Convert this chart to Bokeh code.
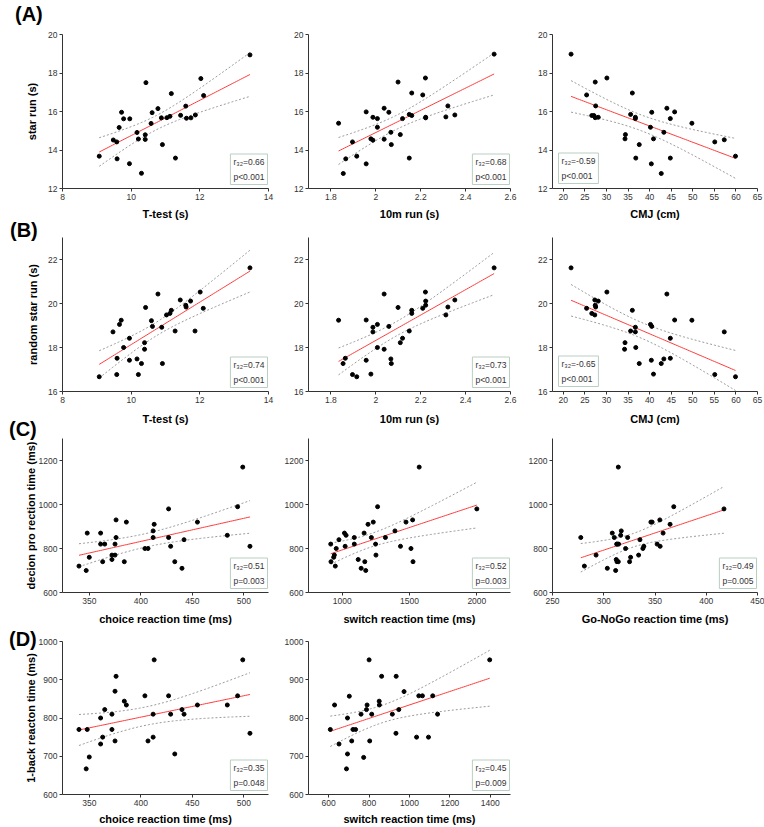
import numpy as np
from bokeh.plotting import figure
from bokeh.models import Label, FixedTicker, Range1d, GridBox, Div
from bokeh.embed import file_html
from bokeh.resources import INLINE

# ---------------- data ----------------
tt_a = [9.07, 9.48, 9.58, 9.59, 9.65, 9.72, 9.78, 9.95, 9.96, 10.17, 10.21, 10.30, 10.41, 10.41, 10.43, 10.58,
        10.61, 10.78, 10.88, 10.91, 11.04, 11.13, 11.17, 11.29, 11.44, 11.59, 11.61, 11.74, 11.87, 12.03, 12.11, 13.46]
star_a1 = [13.68, 14.52, 14.42, 13.54, 15.17, 15.96, 15.62, 13.29, 15.62, 14.91, 14.57, 12.79, 14.79, 14.55, 17.50, 15.38,
           15.94, 16.15, 15.67, 14.28, 15.68, 15.75, 16.93, 13.58, 15.80, 16.28, 15.65, 15.67, 15.82, 17.71, 16.83, 18.94]
run10_a = [1.834, 1.855, 1.866, 1.896, 1.915, 1.957, 1.957, 1.978, 1.987, 1.987, 2.007, 2.007, 2.037, 2.037, 2.058, 2.067,
           2.069, 2.099, 2.109, 2.119, 2.149, 2.149, 2.160, 2.160, 2.209, 2.221, 2.222, 2.222, 2.312, 2.321, 2.352, 2.527]
star_a2 = [15.39, 12.78, 13.54, 14.42, 13.68, 15.98, 13.28, 14.58, 14.51, 15.70, 15.63, 15.18, 14.56, 16.17, 15.96, 14.92,
           14.28, 17.53, 14.80, 15.63, 13.58, 15.85, 15.79, 16.96, 16.86, 17.74, 15.70, 15.67, 15.72, 16.29, 15.82, 18.98]
cmj_a = [21.8, 25.4, 27.4, 27.5, 26.6, 27.1, 27.4, 28.1, 30.1, 34.3, 34.4, 35.6, 36.0, 36.7, 36.7, 36.8,
         37.6, 40.2, 40.4, 40.5, 40.9, 42.7, 43.3, 44.0, 44.8, 44.8, 45.8, 49.8, 55.1, 57.3, 59.9]
star_a3 = [18.98, 16.86, 17.53, 16.29, 15.79, 15.79, 15.68, 15.70, 17.74, 14.58, 14.80, 15.85, 16.96, 15.70, 15.63, 13.58,
           14.28, 15.18, 13.28, 15.96, 14.58, 12.78, 14.92, 16.17, 15.63, 13.58, 15.98, 15.39, 14.42, 14.53, 13.68]

tt_b = [9.07, 9.47, 9.59, 9.58, 9.66, 9.71, 9.78, 9.95, 9.95, 10.17, 10.21, 10.30, 10.39, 10.39, 10.42, 10.59,
        10.62, 10.78, 10.89, 10.91, 11.03, 11.13, 11.17, 11.28, 11.43, 11.59, 11.60, 11.73, 11.86, 12.01, 12.10, 13.46]
rstar_b1 = [16.67, 18.71, 17.51, 16.77, 19.05, 19.24, 18.00, 18.42, 17.42, 17.48, 16.77, 17.27, 18.22, 17.92, 19.82, 19.22,
            18.96, 20.43, 18.92, 17.27, 19.48, 19.55, 19.69, 18.75, 20.16, 19.92, 19.84, 20.11, 18.75, 20.52, 19.78, 21.62]
run10_b = [1.834, 1.854, 1.864, 1.896, 1.915, 1.957, 1.957, 1.978, 1.987, 1.987, 2.007, 2.007, 2.037, 2.037, 2.058, 2.067,
           2.069, 2.099, 2.109, 2.119, 2.149, 2.160, 2.160, 2.209, 2.221, 2.222, 2.222, 2.312, 2.321, 2.352, 2.527]
rstar_b2 = [19.24, 17.27, 17.51, 16.77, 16.67, 19.25, 17.42, 16.79, 18.92, 18.71, 19.05, 18.00, 17.92, 20.43, 18.96, 17.48,
            17.27, 19.82, 18.22, 18.42, 18.75, 19.69, 19.55, 19.78, 20.52, 20.11, 19.92, 19.48, 19.84, 20.16, 21.62]
cmj_b = [21.8, 25.4, 26.6, 27.3, 27.4, 27.5, 27.3, 28.1, 30.1, 34.3, 34.2, 35.6, 36.0, 36.7, 36.7, 36.8,
         37.6, 40.2, 40.4, 40.5, 40.9, 42.7, 43.3, 44.0, 44.8, 44.8, 45.8, 49.8, 55.1, 57.3, 59.9]
rstar_b3 = [21.62, 19.78, 19.55, 20.16, 19.92, 19.84, 19.48, 20.11, 20.52, 18.22, 17.92, 18.75, 19.69, 18.92, 18.71, 18.00,
            17.27, 19.05, 17.42, 18.96, 16.79, 17.27, 17.48, 20.43, 18.42, 17.51, 19.25, 19.24, 16.77, 18.71, 16.67]

choice_c = [340, 347, 348, 350, 361, 361, 363, 365, 372, 372, 375, 375, 376, 376, 384, 386,
            404, 407, 412, 412, 413, 427, 427, 429, 433, 440, 442, 455, 484, 494, 499, 506]
dec_c1 = [720, 700, 870, 760, 870, 820, 740, 820, 750, 770, 820, 770, 850, 930, 740, 920,
          800, 800, 880, 850, 910, 980, 850, 810, 740, 710, 840, 920, 860, 990, 1170, 810]
switch_c = [915, 917, 937, 942, 949, 956, 976, 1017, 1022, 1029, 1090, 1090, 1119, 1141, 1163, 1168,
            1175, 1192, 1217, 1231, 1248, 1251, 1263, 1321, 1392, 1433, 1474, 1511, 1523, 1526, 1572, 2000]
dec_c2 = [820, 740, 760, 770, 720, 800, 840, 870, 810, 860, 850, 820, 750, 710, 870, 740,
          700, 910, 850, 920, 820, 770, 990, 850, 880, 810, 920, 800, 930, 740, 1170, 980]
gonogo_c = [277.6, 281.1, 292.5, 303.5, 308.3, 310.3, 311.6, 312.6, 313.2, 314.5, 312.2, 312.9, 314.2, 316.5, 317.1, 314.2,
            321.3, 323.3, 325.2, 326.2, 334.0, 335.3, 338.2, 339.1, 346.0, 347.2, 352.1, 354.7, 355.0, 357.9, 364.7, 368.3, 417.3]
dec_c3 = [850, 720, 770, 710, 870, 850, 700, 820, 820, 820, 750, 740, 740, 860, 880, 1170,
          800, 850, 740, 760, 770, 840, 800, 810, 920, 920, 820, 930, 810, 870, 910, 990, 980]

choice_d = [340, 347, 348, 350, 361, 361, 363, 365, 372, 372, 375, 375, 376, 384, 386, 404,
            407, 412, 412, 413, 427, 429, 433, 440, 442, 455, 484, 494, 499, 506]
back_d1 = [770, 667, 770, 698, 800, 732, 750, 822, 810, 770, 740, 870, 909, 844, 834, 858,
           740, 810, 750, 952, 858, 810, 706, 822, 810, 834, 834, 858, 952, 760]
switch_d = [608, 629, 651, 688, 693, 693, 702, 714, 720, 733, 760, 773, 787, 790, 800, 803,
            813, 850, 851, 862, 915, 933, 934, 947, 973, 1035, 1046, 1064, 1094, 1115, 1139, 1397]
back_d2 = [770, 834, 732, 667, 800, 706, 857, 740, 770, 770, 810, 697, 822, 834, 952, 740,
           810, 844, 834, 909, 810, 760, 909, 822, 869, 750, 858, 858, 750, 858, 810, 952]

r_vals = ["0.66", "0.68", "-0.59", "0.74", "0.73", "-0.65", "0.51", "0.52", "0.49", "0.35", "0.45"]
p_vals = ["p<0.001", "p<0.001", "p<0.001", "p<0.001", "p<0.001", "p<0.001",
          "p=0.003", "p=0.003", "p=0.005", "p=0.048", "p=0.009"]

xlabels = ["T-test (s)", "10m run (s)", "CMJ (cm)", "T-test (s)", "10m run (s)", "CMJ (cm)",
           "choice reaction time (ms)", "switch reaction time (ms)", "Go-NoGo reaction time (ms)",
           "choice reaction time (ms)", "switch reaction time (ms)"]
ylabels = ["star run (s)", "random star run (s)", "decion pro rection time (ms)", "1-back reacton time (ms)"]
panel_tags = ["(A)", "(B)", "(C)", "(D)"]
xticks_tt = [8, 10, 12, 14]
xticks_run = [1.8, 2.0, 2.2, 2.4, 2.6]
xticks_cmj = [20, 25, 30, 35, 40, 45, 50, 55, 60, 65]
xticks_choice = [350, 400, 450, 500]
xticks_switch_c = [1000, 1500, 2000]
xticks_gonogo = [250, 300, 350, 400, 450]
xticks_switch_d = [600, 800, 1000, 1200, 1400]
yticks_a = [12, 14, 16, 18, 20]
yticks_b = [16, 18, 20, 22]
yticks_c = [600, 800, 1000, 1200]
yticks_d = [600, 700, 800, 900, 1000]

FONT = "Liberation Sans"
T_CRIT = 2.04  # two-sided 95 % t value, df ~ 30


def fit_band(x, y):
    x = np.asarray(x, float)
    y = np.asarray(y, float)
    b, a = np.polyfit(x, y, 1)
    xs = np.linspace(x.min(), x.max(), 80)
    yh = a + b * xs
    res = y - (a + b * x)
    s = np.sqrt(np.sum(res ** 2) / (len(x) - 2))
    se = s * np.sqrt(1.0 / len(x) + (xs - x.mean()) ** 2 / np.sum((x - x.mean()) ** 2))
    return xs, yh, yh - T_CRIT * se, yh + T_CRIT * se


COLS = [dict(w=280, bl=62, br=12), dict(w=242, bl=28, br=12), dict(w=242, bl=30, br=7)]
ROWS = [dict(h=224, bt=34, bb=36, xstd=5), dict(h=203, bt=13, bb=36, xstd=7),
        dict(h=201, bt=11, bb=36, xstd=6), dict(h=199, bt=13, bb=32, xstd=4)]


def panel(ri, ci, k, x, y, xr, yr, xt, yt, box_left=False, ylabel=None, std=5):
    c, r = COLS[ci], ROWS[ri]
    p = figure(width=c["w"], height=r["h"], x_range=Range1d(*xr), y_range=Range1d(*yr),
               output_backend="svg", toolbar_location=None,
               min_border_left=c["bl"], min_border_right=c["br"],
               min_border_top=r["bt"], min_border_bottom=r["bb"])
    p.outline_line_color = None
    p.grid.visible = False
    for ax in (p.xaxis[0], p.yaxis[0]):
        ax.axis_line_color = "#333333"
        ax.major_tick_line_color = "#333333"
        ax.minor_tick_line_color = None
        ax.major_tick_in = 0
        ax.major_tick_out = 3
        ax.major_label_standoff = 2
        ax.major_label_text_font = FONT
        ax.major_label_text_font_size = "8.5px"
        ax.major_label_text_color = "#333333"
        ax.axis_label_text_font = FONT
        ax.axis_label_text_font_size = "11px"
        ax.axis_label_text_font_style = "bold"
        ax.axis_label_text_color = "black"
    p.xaxis.ticker = FixedTicker(ticks=xt)
    p.yaxis.ticker = FixedTicker(ticks=yt)
    p.xaxis.axis_label = xlabels[k]
    p.xaxis.axis_label_standoff = r["xstd"]
    if ylabel:
        p.yaxis.axis_label = ylabel
        p.yaxis.axis_label_standoff = std

    xs, yh, lo, hi = fit_band(x, y)
    p.line(xs, lo, line_color="#9a9a9a", line_width=1, line_dash="2 2")
    p.line(xs, hi, line_color="#9a9a9a", line_width=1, line_dash="2 2")
    p.line(xs, yh, line_color="#ff3b3b", line_width=1)
    p.scatter(x, y, size=4, color="black")

    txt = "r\u2083\u2082=" + r_vals[k] + "\n" + p_vals[k]
    if box_left:
        lab = Label(x=xr[0], y=yr[0], x_offset=6, y_offset=5, anchor="bottom_left")
    else:
        lab = Label(x=xr[1], y=yr[0], x_offset=-1, y_offset=4, anchor="bottom_right")
    lab.text = txt
    lab.text_font = FONT
    lab.text_font_size = "8.5px"
    lab.text_color = "#333333"
    lab.text_line_height = 1.45
    lab.padding = 3
    lab.background_fill_color = "white"
    lab.border_line_color = "#b9cfc2"
    lab.border_line_width = 1
    p.add_layout(lab)
    return p


a1 = panel(0, 0, 0, tt_a, star_a1, (8, 14), (12, 20), xticks_tt, yticks_a, ylabel=ylabels[0], std=7)
a2 = panel(0, 1, 1, run10_a, star_a2, (1.7, 2.6), (12, 20), xticks_run, yticks_a)
a3 = panel(0, 2, 2, cmj_a, star_a3, (17.5, 65), (12, 20), xticks_cmj, yticks_a, box_left=True)
b1 = panel(1, 0, 3, tt_b, rstar_b1, (8, 14), (16, 23), xticks_tt, yticks_b, ylabel=ylabels[1], std=6)
b2 = panel(1, 1, 4, run10_b, rstar_b2, (1.7, 2.6), (16, 23), xticks_run, yticks_b)
b3 = panel(1, 2, 5, cmj_b, rstar_b3, (17.5, 65), (16, 23), xticks_cmj, yticks_b, box_left=True)
c1 = panel(2, 0, 6, choice_c, dec_c1, (324, 524), (600, 1300), xticks_choice, yticks_c, ylabel=ylabels[2], std=-1)
c2 = panel(2, 1, 7, switch_c, dec_c2, (750, 2250), (600, 1300), xticks_switch_c, yticks_c)
c3 = panel(2, 2, 8, gonogo_c, dec_c3, (250, 450), (600, 1300), xticks_gonogo, yticks_c)
d1 = panel(3, 0, 9, choice_d, back_d1, (324, 524), (600, 1000), xticks_choice, yticks_d, ylabel=ylabels[3], std=-1)
d2 = panel(3, 1, 10, switch_d, back_d2, (500, 1500), (600, 1000), xticks_switch_d, yticks_d)

# panel tags (A)-(D), drawn as an overlay in the first column
TAG_POS = [(10, -1), (5, 215), (4, 414), (4, 624)]
spans = "".join(
    '<div style="position:absolute;left:%dpx;top:%dpx;font-family:\'Liberation Sans\';font-weight:bold;'
    'font-size:20px;line-height:20px;color:black;white-space:nowrap;">%s</div>' % (lx, ty, t)
    for t, (lx, ty) in zip(panel_tags, TAG_POS))
tags = Div(text='<div style="position:relative;width:60px;height:660px;">' + spans + '</div>',
           width=60, height=660, styles={"position": "relative", "z-index": "10", "pointer-events": "none"})

children = [(a1, 0, 0), (a2, 0, 1), (a3, 0, 2),
            (b1, 1, 0), (b2, 1, 1), (b3, 1, 2),
            (c1, 2, 0), (c2, 2, 1), (c3, 2, 2),
            (d1, 3, 0), (d2, 3, 1),
            (tags, 0, 0, 4, 1)]
layout = GridBox(children=children, spacing=0)

open("out.html", "w").write(file_html(layout, INLINE))
